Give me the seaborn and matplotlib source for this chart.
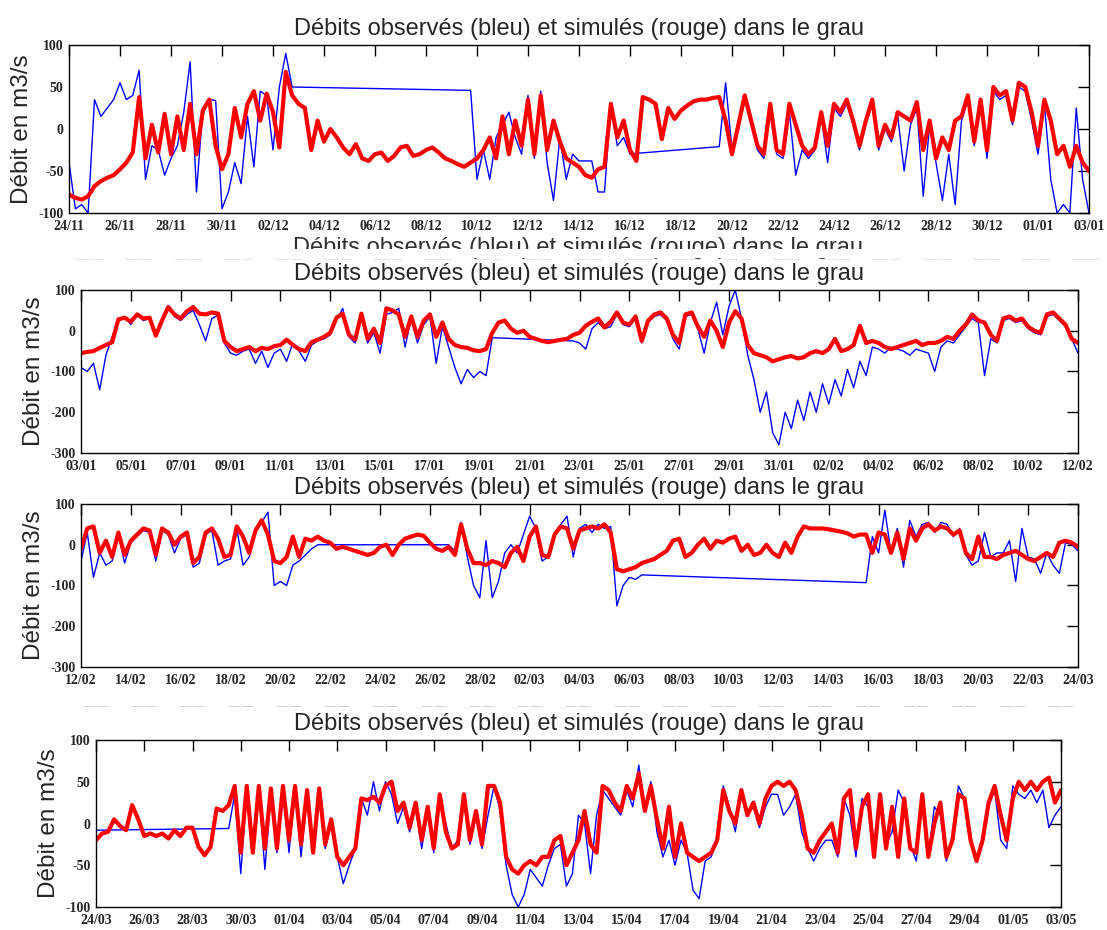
import numpy as np
import pandas as pd
import matplotlib.pyplot as plt
import seaborn as sns
from matplotlib.patches import Rectangle

# one value every 6 hours (4 per day, 40 days per panel)
# None = no measurement (the line then jumps straight over the gap)
STEP = 0.25
TITLE = "Débits observés (bleu) et simulés (rouge) dans le grau"

# ---------------- panel 1 : 24/11 -> 03/01
labels_p1 = ["24/11", "26/11", "28/11", "30/11", "02/12", "04/12", "06/12", "08/12", "10/12", "12/12",
             "14/12", "16/12", "18/12", "20/12", "22/12", "24/12", "26/12", "28/12", "30/12", "01/01", "03/01"]
obs_p1 = [-40, -95, -90, -100, 35, 15, 25, 35,
          55, 35, 40, 70, -60, -20, -25, -55,
          -35, -20, 20, 80, -75, 25, 35, 34,
          -95, -75, -40, -65, 15, -45, 45, 40,
          -25, 50, 90, 50, None, None, None, None,
          None, None, None, None, None, None, None, None,
          None, None, None, None, None, None, None, None,
          None, None, None, None, None, None, None, 46,
          -60, -25, -60, -10, 5, 20, -10, -30,
          40, -35, 45, -40, -85, -10, -60, -30,
          -38, -38, -38, -75, -75, 30, -20, -10,
          -30, -29, None, None, None, None, None, None,
          None, None, None, None, None, None, -21, 55,
          -25, 0, 35, 5, -25, -35, 25, -30,
          -35, 20, -55, -25, -35, -25, 15, -40,
          25, 15, 30, 5, -25, 5, 30, -25,
          0, -15, 15, -50, 5, 25, -80, 5,
          -40, -85, -30, -90, 10, 35, -20, 30,
          -35, 45, 35, 40, 5, 50, 45, 10,
          -30, 30, -60, -100, -90, -100, 25, -60,
          -100]
sim_p1 = [-78, -82, -84, -80, -68, -62, -58, -55,
          -48, -40, -28, 38, -35, 5, -28, 18,
          -30, 15, -25, 30, -30, 22, 35, -20,
          -48, -30, 25, -10, 30, 45, 10, 42,
          20, -22, 68, 40, 30, 25, -25, 10,
          -15, 0, -10, -22, -30, -18, -35, -38,
          -30, -28, -38, -32, -22, -20, -32, -30,
          -25, -22, -28, -35, -38, -42, -45, -40,
          -35, -25, -10, -35, 15, -30, 10, -20,
          35, -30, 40, -25, 10, -15, -35, -40,
          -45, -55, -58, -48, -45, 30, -10, 10,
          -25, -38, 38, 35, 30, -12, 25, 12,
          22, 28, 33, 35, 35, 37, 38, 10,
          -30, 5, 40, 10, -20, -30, 30, -25,
          -30, 30, 5, -20, -30, -22, 20, -20,
          30, 20, 35, 10, -20, 10, 35, -20,
          5, -10, 20, 15, 10, 32, -25, 10,
          -35, -10, -25, 10, 15, 40, -15, 35,
          -25, 50, 40, 45, 10, 55, 50, 20,
          -20, 35, 10, -30, -20, -45, -20, -40,
          -50]

# ---------------- panel 2 : 03/01 -> 12/02
labels_p2 = ["03/01", "05/01", "07/01", "09/01", "11/01", "13/01", "15/01", "17/01", "19/01", "21/01",
             "23/01", "25/01", "27/01", "29/01", "31/01", "02/02", "04/02", "06/02", "08/02", "10/02", "12/02"]
obs_p2 = [-90, -100, -80, -145, -60, -15, 25, 35,
          15, 40, 25, 30, -15, 20, 62, 35,
          25, 40, 50, 15, -25, 30, 38, -30,
          -55, -60, -50, -45, -80, -50, -90, -55,
          -45, -75, -30, -50, -75, -35, -25, -20,
          -10, 25, 55, -15, -30, 35, -30, -5,
          -55, 40, 45, 55, -40, 30, -30, 15,
          35, -80, 10, -40, -90, -130, -95, -115,
          -100, -110, -17, None, None, None, None, None,
          None, None, None, None, None, None, None, -25,
          -30, -45, 5, 20, 5, 10, 40, 15,
          10, 30, -30, 20, 35, 40, 25, -20,
          -45, 35, 40, 5, -55, 20, 70, -10,
          60, 100, 30, -60, -120, -200, -150, -250,
          -280, -200, -240, -170, -220, -150, -200, -130,
          -180, -120, -160, -95, -140, -75, -110, -40,
          -45, -55, -40, -45, -50, -60, -45, -50,
          -55, -100, -40, -25, -30, -10, 10, 30,
          20, -110, -20, -30, 25, 30, 20, 25,
          5, -5, -10, 35, 40, 25, 10, -20,
          -55]
sim_p2 = [-55, -52, -50, -42, -35, -28, 28, 32,
          22, 40, 30, 32, -12, 25, 58, 40,
          30, 48, 58, 42, 40, 45, 42, -25,
          -40, -50, -45, -40, -50, -42, -45, -38,
          -35, -22, -35, -45, -50, -28, -22, -15,
          -5, 32, 42, -10, -22, 42, -20, 5,
          -30, 55, 50, 40, -15, 35, -15, 25,
          40, -15, 20, -20, -35, -40, -42, -48,
          -50, -45, -5, 20, 25, 5, -5, 0,
          -15, -20, -25, -28, -25, -22, -20, -10,
          -5, 12, 22, 30, 8, 22, 45, 20,
          15, 35, -25, 25, 40, 45, 30, -10,
          -30, 40, 45, 10, -15, 25, 0, -40,
          20, 48, 30, -35, -55, -60, -65, -75,
          -70, -65, -62, -68, -65, -55, -50, -55,
          -45, -20, -50, -45, -35, 12, -30, -25,
          -30, -40, -45, -40, -35, -30, -25, -35,
          -30, -30, -25, -15, -20, 0, 15, 40,
          25, 20, -10, -25, 30, 35, 25, 30,
          10, 0, -5, 40, 45, 30, 15, -20,
          -30]

# ---------------- panel 3 : 12/02 -> 24/03
labels_p3 = ["12/02", "14/02", "16/02", "18/02", "20/02", "22/02", "24/02", "26/02", "28/02", "02/03",
             "04/03", "06/03", "08/03", "10/03", "12/03", "14/03", "16/03", "18/03", "20/03", "22/03", "24/03"]
obs_p3 = [-40, 30, -80, -20, -50, -40, 25, -45,
          5, 20, 35, 30, -40, 35, 25, -20,
          15, 25, -55, -45, 25, 35, -50, -40,
          -35, 40, -50, -30, 30, 55, 80, -100,
          -90, -100, -50, -40, -25, -10, 0, None,
          None, None, None, None, None, None, None, None,
          None, None, None, None, None, None, None, None,
          None, None, None, 0, -15, 55, -30, -100,
          -130, 10, -130, -90, -20, 0, -20, 25,
          70, 40, -40, -30, 30, 50, 70, -30,
          40, 50, 30, 50, 40, 45, -150, -100,
          -80, -85, -74, None, None, None, None, None,
          None, None, None, None, None, None, None, None,
          None, None, None, None, None, None, None, None,
          None, None, None, None, None, None, None, None,
          None, None, None, None, None, None, -93, 20,
          -20, 85, -20, 40, -55, 60, 20, 50,
          55, 30, 55, 50, 20, 40, -25, -50,
          -40, 30, -30, -20, -20, 10, -90, 40,
          -30, -35, -70, -20, -50, -70, 5, 0,
          -15]
sim_p3 = [-10, 40, 45, -20, 10, -30, 30, -25,
          10, 25, 40, 35, -25, 40, 30, 0,
          20, 30, -45, -30, 30, 40, 15, -30,
          -25, 45, 20, -20, 35, 60, 25, -40,
          -45, -30, 20, -30, 15, 10, 20, 10,
          5, -10, -5, -10, -15, -20, -25, -20,
          -5, 0, -25, 0, 15, 20, 25, 22,
          5, -10, -15, -5, -25, 50, -10, -45,
          -45, -50, -40, -45, -55, -20, -5, -40,
          20, 45, -25, -30, 25, 45, 40, -10,
          35, 40, 45, 40, 50, 30, -60, -65,
          -60, -55, -45, -40, -35, -25, -15, 10,
          15, -30, -20, 0, 15, -10, 10, 5,
          15, 20, -15, 0, -25, -20, 0, -20,
          -30, 5, -20, 20, 45, 40, 40, 40,
          38, 35, 32, 28, 20, 25, 25, -20,
          30, 25, -20, 30, -35, 40, 10, 40,
          50, 35, 45, 40, 25, 35, -20, -35,
          20, -30, -30, -35, -25, -20, -15, -25,
          -35, -40, -30, -20, -30, 5, 10, 5,
          -5]

# ---------------- panel 4 : 24/03 -> 03/05
labels_p4 = ["24/03", "26/03", "28/03", "30/03", "01/04", "03/04", "05/04", "07/04", "09/04", "11/04",
             "13/04", "15/04", "17/04", "19/04", "21/04", "23/04", "25/04", "27/04", "29/04", "01/05", "03/05"]
obs_p4 = [-8, None, None, None, None, None, None, None,
          None, None, None, None, None, None, None, None,
          None, None, None, None, None, None, -6, 35,
          -60, 40, -35, 40, -55, 35, -35, 40,
          -35, 40, -40, 35, -35, 35, -30, 0,
          -40, -72, -50, -30, 30, 10, 50, 15,
          50, 35, 0, 20, -10, 20, -30, 15,
          -35, 30, 0, -30, -20, 25, -25, 10,
          -30, 10, 45, 15, -50, -85, -100, -85,
          -55, -65, -75, -50, -30, -25, -75, -60,
          10, 0, -60, 10, 40, 30, 20, 10,
          40, 20, 70, 15, 50, -10, -40, -20,
          -50, -20, -35, -80, -90, -45, -40, -20,
          45, 20, -10, 40, 10, 20, -5, 20,
          35, 35, 10, 20, 35, -10, -30, -45,
          -30, -20, -20, -40, 30, 10, -40, 30,
          20, -35, 30, -25, -10, 40, 25, -25,
          -45, 35, -40, 20, 10, -45, -15, 45,
          30, -20, -45, -25, 20, 40, -20, -30,
          45, 35, 30, 40, 25, 40, -5, 10,
          20]
sim_p4 = [-20, -12, -10, 5, -3, -8, 22, 5,
          -15, -12, -15, -12, -18, -8, -15, -5,
          -5, -28, -38, -28, 18, 15, 22, 45,
          -35, 45, -35, 45, -30, 42, -30, 45,
          -20, 45, -25, 40, -35, 42, -25, 5,
          -40, -50, -40, -30, 30, 28, 32, 25,
          45, 50, 15, 25, -5, 25, -20, 20,
          -30, 35, -10, -30, -25, 35, -20, 15,
          -25, 45, 45, 25, -40, -55, -60, -50,
          -45, -50, -40, -40, -20, -15, -50, -35,
          -20, 15, -25, -35, 45, 40, 25, 15,
          45, 30, 60, 15, 45, 5, -30, 20,
          -40, 0, -35, -40, -45, -40, -35, -20,
          40, 15, 0, 40, 10, 25, 0, 30,
          45, 50, 45, 50, 40, 10, -30, -35,
          -20, -10, 0, -35, 30, 40, -30, 20,
          35, -40, 35, -30, 20, -40, 30, -30,
          -35, 35, -40, 0, 25, -40, -20, 35,
          30, -20, -45, -20, 25, 45, 10, -20,
          30, 50, 40, 50, 40, 50, 55, 25,
          40]

yticks_small = [-100, -50, 0, 50, 100]
yticks_big = [-300, -200, -100, 0, 100]

W, H = 1107, 930


def px_box(left, right, top, bottom):
    return [left / W, 1 - bottom / H, (right - left) / W, (bottom - top) / H]


panels = [
    (obs_p1, sim_p1, labels_p1, yticks_small, px_box(69, 1089, 45, 213)),
    (obs_p2, sim_p2, labels_p2, yticks_big, px_box(81, 1078, 290, 453)),
    (obs_p3, sim_p3, labels_p3, yticks_big, px_box(81, 1078, 504, 667)),
    (obs_p4, sim_p4, labels_p4, yticks_small, px_box(96, 1061, 740, 907)),
]

sns.set_style("white")
plt.rcParams['font.family'] = ['Liberation Sans', 'DejaVu Sans']
plt.rcParams['axes.unicode_minus'] = False

fig = plt.figure(figsize=(W / 100, H / 100), dpi=100)
tick_font = {'family': 'Liberation Serif', 'weight': 'bold', 'size': 10}

for obs, sim, labels, yticks, box in panels:
    ax = fig.add_axes(box)
    df_obs = pd.DataFrame({'t': np.arange(len(obs)) * STEP, 'q': pd.Series(obs, dtype=float)}).dropna()
    df_sim = pd.DataFrame({'t': np.arange(len(sim)) * STEP, 'q': pd.Series(sim, dtype=float)})
    sns.lineplot(data=df_obs, x='t', y='q', ax=ax, color='#0000ff', linewidth=1.0, estimator=None)
    sns.lineplot(data=df_sim, x='t', y='q', ax=ax, color='#ff0000', linewidth=3.0, estimator=None)

    ax.set_xlim(0, (len(labels) - 1) * 2)
    ax.set_ylim(yticks[0], yticks[-1])
    ax.set_xticks(np.arange(len(labels)) * 2)
    ax.set_xticklabels(labels, fontdict=tick_font)
    ax.set_yticks(yticks)
    ax.set_yticklabels([str(v) for v in yticks], fontdict=tick_font)
    ax.tick_params(direction='in', top=True, right=True, length=8, width=1, color='black')
    ax.tick_params(axis='x', pad=5)
    ax.tick_params(axis='y', pad=4)
    for sp in ax.spines.values():
        sp.set_color('black')
        sp.set_linewidth(1)
    ax.set_xlabel('')
    ax.set_ylabel('Débit en m3/s', fontsize=17.5)
    ax.yaxis.set_label_coords(-36 / (box[2] * W), 0.5)
    ax.set_title(TITLE, fontsize=17, pad=7)

# ghost of an overlapped title under the first panel (only its top is visible)
fig.text(578 / W, 1 - 237 / H, TITLE, fontsize=17, ha='center', va='top', color='#303030')
fig.add_artist(Rectangle((250 / W, 1 - 258 / H), 680 / W, 8.5 / H, transform=fig.transFigure,
                         facecolor='white', edgecolor='none', zorder=5))
# faint remnants of the next panel's tick labels between panels
for k in range(len(labels_p2)):
    fig.text((81 + 8 + k * (1078 - 81) / 20) / W, 1 - 260 / H, '‒‒‒ ‒‒', fontsize=6.5,
             ha='center', va='center', color='#d4d4d4', zorder=6)
    fig.text((96 + k * (1061 - 96) / 20) / W, 1 - 706 / H, '‒‒ ‒‒', fontsize=7,
             ha='center', va='center', color='#c0c0c0')

fig.savefig('out.png', dpi=100)
